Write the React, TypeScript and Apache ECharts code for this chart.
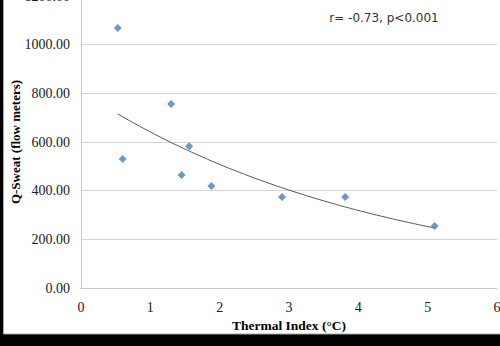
import React, { useEffect, useRef } from "react";
import * as echarts from "echarts";

// Data
const thermalIndex = [0.53, 0.6, 1.3, 1.45, 1.56, 1.88, 2.9, 3.81, 5.1];
const qSweat = [1068, 530, 756, 464, 583, 419, 374, 374, 255];
const xTicks = [0, 1, 2, 3, 4, 5, 6];
const yTicks = [0, 200, 400, 600, 800, 1000, 1200];
const statText = "r= -0.73, p<0.001";

// Exponential trendline fitted (least squares on ln y), like Excel
function expFit(xs: number[], ys: number[]) {
  const n = xs.length;
  const ly = ys.map((v) => Math.log(v));
  const mx = xs.reduce((a, b) => a + b, 0) / n;
  const my = ly.reduce((a, b) => a + b, 0) / n;
  let sxy = 0;
  let sxx = 0;
  for (let i = 0; i < n; i++) {
    sxy += (xs[i] - mx) * (ly[i] - my);
    sxx += (xs[i] - mx) * (xs[i] - mx);
  }
  const b = sxy / sxx;
  const a = Math.exp(my - b * mx);
  return { a, b };
}

export default function App() {
  const ref = useRef<HTMLDivElement>(null);
  useEffect(() => {
    document.body.style.margin = "0";
    if (!ref.current) return;
    const chart = echarts.init(ref.current, undefined, { renderer: "svg" });
    const { a, b } = expFit(thermalIndex, qSweat);
    const xMin = Math.min(...thermalIndex);
    const xMax = Math.max(...thermalIndex);
    const steps = 60;
    const trend: number[][] = [];
    for (let i = 0; i <= steps; i++) {
      const x = xMin + ((xMax - xMin) * i) / steps;
      trend.push([x, a * Math.exp(b * x)]);
    }
    const serif = "Liberation Serif";
    chart.setOption({
      animation: false,
      backgroundColor: "#000000",
      textStyle: { fontFamily: serif },
      graphic: [
        {
          type: "rect",
          shape: { x: 3.5, y: -2, width: 500, height: 336 },
          style: { fill: "#ffffff", stroke: "#a6a6a6", lineWidth: 1 },
          z: -10,
          silent: true,
        },
        {
          type: "text",
          x: 384,
          y: 18,
          style: {
            text: statText,
            fontFamily: "DejaVu Sans",
            fontSize: 12,
            fill: "#333333",
            align: "center",
            verticalAlign: "middle",
          },
        },
      ],
      grid: { left: 81, right: 3, top: -4, bottom: 58, outerBoundsMode: "none", containLabel: false },
      xAxis: {
        type: "value",
        min: 0,
        max: 6,
        interval: 1,
        name: "Thermal Index (°C)",
        nameLocation: "middle",
        nameGap: 30,
        nameTextStyle: { fontFamily: serif, fontWeight: "bold", fontSize: 13.5, color: "#000" },
        axisLine: { show: true, lineStyle: { color: "#c8c8c8" } },
        axisTick: { show: false },
        splitLine: { show: false },
        axisLabel: {
          fontFamily: serif,
          fontSize: 14,
          color: "#1a1a1a",
          margin: 12,
          formatter: (v: number) => (xTicks.includes(v) ? String(v) : ""),
        },
      },
      yAxis: {
        type: "value",
        min: 0,
        max: 1200,
        interval: 200,
        name: "Q-Sweat (flow meters)",
        nameLocation: "middle",
        nameGap: 59,
        nameMoveOverlap: false,
        nameTextStyle: { fontFamily: serif, fontWeight: "bold", fontSize: 13, color: "#000" },
        axisLine: { show: true, lineStyle: { color: "#c8c8c8" } },
        axisTick: { show: false },
        splitLine: { show: true, lineStyle: { color: "#d4d4d4" } },
        axisLabel: {
          fontFamily: serif,
          fontSize: 14,
          color: "#1a1a1a",
          margin: 11,
          formatter: (v: number) => (yTicks.includes(v) ? v.toFixed(2) : ""),
        },
      },
      series: [
        {
          type: "line",
          data: trend,
          showSymbol: false,
          symbol: "none",
          lineStyle: { color: "#5a5a5a", width: 1 },
          z: 2,
        },
        {
          type: "scatter",
          data: thermalIndex.map((x, i) => [x, qSweat[i]]),
          symbol: "diamond",
          symbolSize: 8,
          itemStyle: { color: "#4a7ebb" },
          z: 3,
        },
      ],
    });
    return () => chart.dispose();
  }, []);
  return <div ref={ref} style={{ width: 500, height: 346 }} />;
}
